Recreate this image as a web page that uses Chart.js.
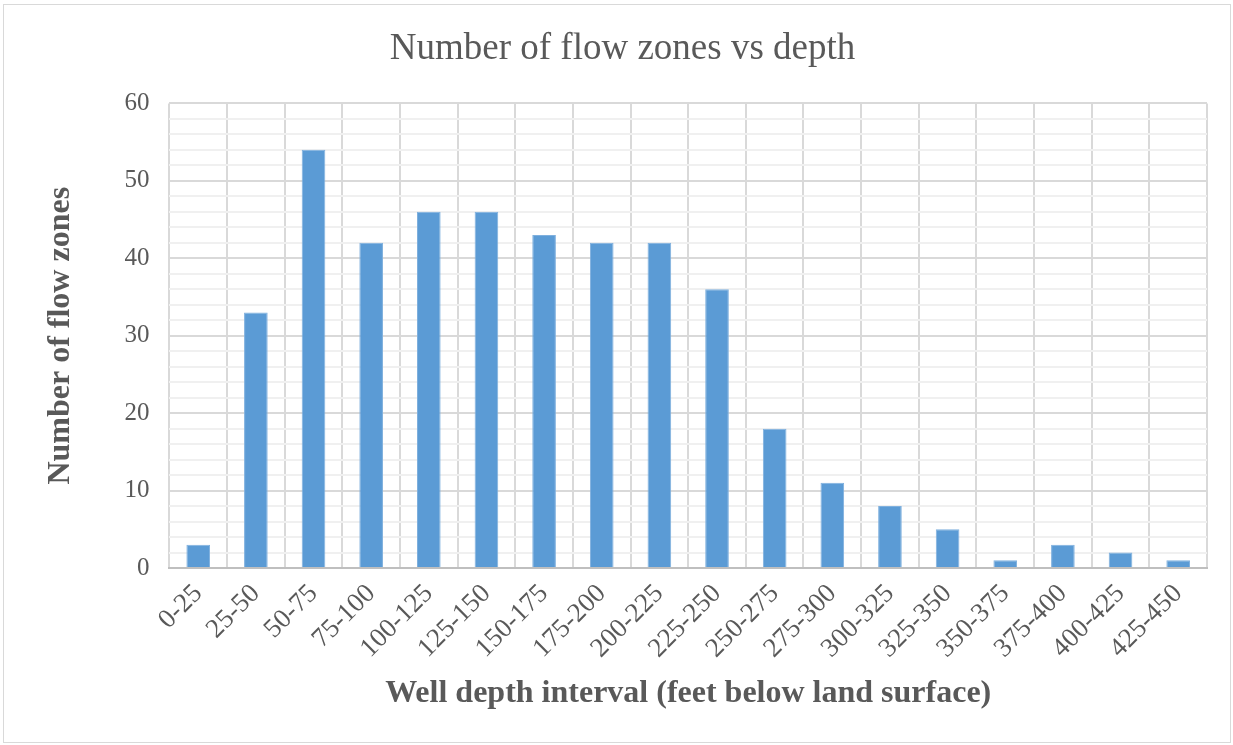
<!DOCTYPE html>
<html>
<head>
<meta charset="utf-8">
<script src="https://cdn.jsdelivr.net/npm/chart.js@4"></script>
<style>
  html, body { margin: 0; padding: 0; background: #fff; }
  #frame { position: absolute; left: 3px; top: 4px; width: 1228px; height: 739px; border: 1px solid #d9d9d9; box-sizing: border-box; }
  #wrap { position: absolute; left: 0; top: 0; width: 1233px; height: 745px; }
</style>
</head>
<body>
<div id="frame"></div>
<div id="wrap"><canvas id="chart-canvas"></canvas></div>
<script>
const intervals = ["0-25", "25-50", "50-75", "75-100", "100-125", "125-150", "150-175", "175-200", "200-225",
  "225-250", "250-275", "275-300", "300-325", "325-350", "350-375", "375-400", "400-425", "425-450"];
const flowZones = [3, 33, 54, 42, 46, 46, 43, 42, 42, 36, 18, 11, 8, 5, 1, 3, 2, 1];

const textGray = "#595959";
const serif = "'Liberation Serif', 'Times New Roman', serif";

let ctx = document.getElementById("chart-canvas");

let zones_chart = new Chart(ctx, {
  type: "bar",
  data: {
    labels: intervals,
    datasets: [
      {
        data: flowZones,
        backgroundColor: "#5b9bd5",
        borderColor: "#7fb0de",
        borderWidth: 1,
        categoryPercentage: 1,
        barPercentage: 0.41,
      },
    ],
  },
  options: {
    responsive: true,
    maintainAspectRatio: false,
    animation: false,
    layout: { padding: { left: 38, right: 26, top: 8, bottom: 28 } },
    plugins: {
      legend: { display: false },
      tooltip: { enabled: false },
      title: {
        display: true,
        text: "Number of flow zones vs depth",
        color: textGray,
        font: { family: serif, size: 37, weight: "normal" },
        padding: { top: 19, bottom: 32 },
      },
    },
    scales: {
      x: {
        grid: { color: "#d9d9d9", lineWidth: 2, offset: true, drawTicks: false },
        border: { color: "#bfbfbf", width: 2 },
        ticks: {
          color: textGray,
          font: { family: serif, size: 27 },
          maxRotation: 45,
          minRotation: 45,
          padding: 10,
        },
        title: {
          display: true,
          text: "Well depth interval (feet below land surface)",
          color: textGray,
          font: { family: serif, size: 32, weight: "bold" },
          padding: { top: 0 },
        },
      },
      y: {
        min: 0,
        max: 60,
        ticks: {
          stepSize: 2,
          autoSkip: false,
          color: textGray,
          font: { family: serif, size: 25 },
          padding: 20,
          callback: (v) => (v % 10 === 0 ? v : ""),
        },
        grid: {
          drawTicks: false,
          color: (c) => (c.tick && c.tick.value % 10 === 0 ? "#d9d9d9" : "#f0f0f0"),
          lineWidth: 2,
        },
        border: { display: false },
        title: {
          display: true,
          text: "Number of flow zones",
          color: textGray,
          font: { family: serif, size: 32, weight: "bold" },
          padding: { bottom: 24 },
        },
      },
    },
  },
});
</script>
</body>
</html>
